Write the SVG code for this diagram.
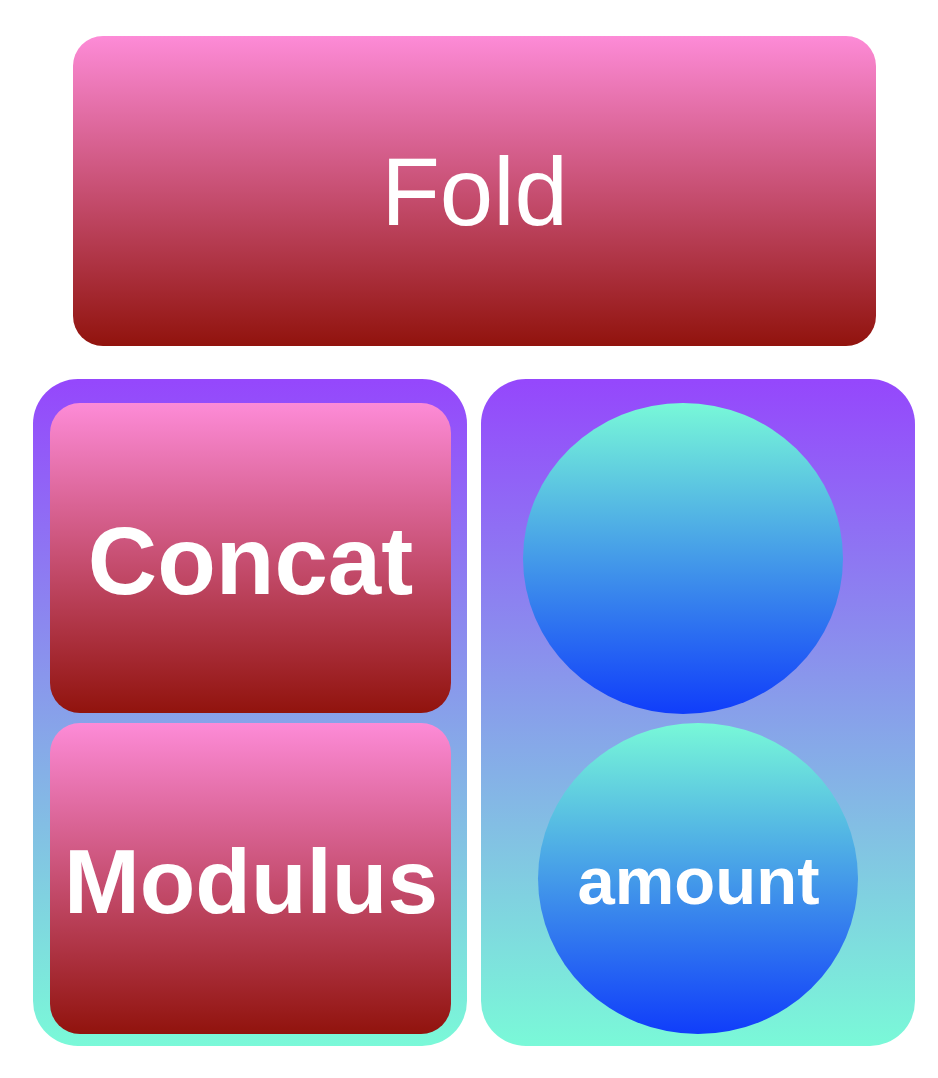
<svg xmlns="http://www.w3.org/2000/svg" width="938" height="1078" viewBox="0 0 938 1078">
  <defs>
    <linearGradient id="red" x1="0" y1="0" x2="0" y2="1">
      <stop offset="0" stop-color="#FD8BD7"/>
      <stop offset="1" stop-color="#91130D"/>
    </linearGradient>
    <linearGradient id="cont" x1="0" y1="0" x2="0" y2="1">
      <stop offset="0" stop-color="#9547FC"/>
      <stop offset="1" stop-color="#7AF9D8"/>
    </linearGradient>
    <linearGradient id="blue" x1="0" y1="0" x2="0" y2="1">
      <stop offset="0" stop-color="#78F8D8"/>
      <stop offset="1" stop-color="#103DFA"/>
    </linearGradient>
  </defs>
  <style>
    .red { fill: url(#red); }
    .cont { fill: url(#cont); }
    .blue { fill: url(#blue); }
    .lbl { fill: #FFFFFF; font-family: "Liberation Sans", Arial, sans-serif; text-anchor: middle; }
    .b { font-weight: bold; }
  </style>
  <rect width="938" height="1078" fill="#FFFFFF"/>
  <g id="fold">
    <rect class="red" x="73" y="36" width="803" height="310" rx="30" ry="30"/>
    <text class="lbl" x="474.5" y="225" font-size="96">Fold</text>
  </g>
  <g id="left-group">
    <rect class="cont" x="33" y="379" width="434" height="667" rx="45" ry="45"/>
  </g>
  <g id="concat">
    <rect class="red" x="50" y="403" width="401" height="310" rx="30" ry="30"/>
    <text class="lbl b" x="250.5" y="594" font-size="96">Concat</text>
  </g>
  <g id="modulus">
    <rect class="red" x="50" y="723" width="401" height="311" rx="30" ry="30"/>
    <text class="lbl b" x="251" y="913" font-size="91">Modulus</text>
  </g>
  <g id="right-group">
    <rect class="cont" x="481" y="379" width="434" height="667" rx="45" ry="45"/>
  </g>
  <g id="circle-top">
    <ellipse class="blue" cx="683" cy="558.5" rx="160" ry="155.5"/>
  </g>
  <g id="amount">
    <ellipse class="blue" cx="698" cy="878.5" rx="160" ry="155.5"/>
    <text class="lbl b" x="698.5" y="904" font-size="67">amount</text>
  </g>
  <g id="connectors"/>
</svg>
